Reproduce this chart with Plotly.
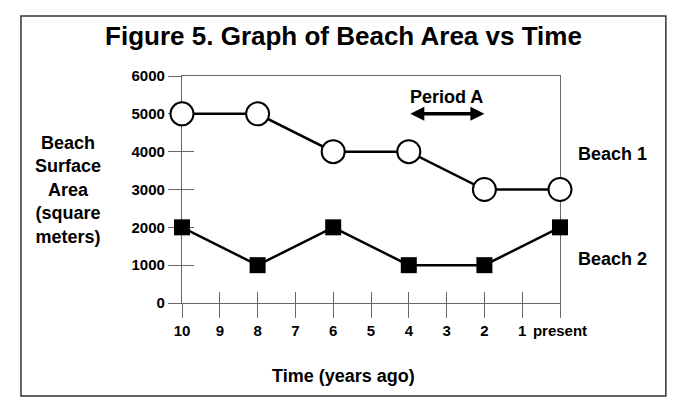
import plotly.graph_objects as go

# Data
years_ago = [10, 8, 6, 4, 2, 0]
beach1 = [5000, 5000, 4000, 4000, 3000, 3000]
beach2 = [2000, 1000, 2000, 1000, 1000, 2000]

tick_vals = [10, 9, 8, 7, 6, 5, 4, 3, 2, 1, 0]
tick_text = ["10", "9", "8", "7", "6", "5", "4", "3", "2", "1", "present"]
y_ticks = [0, 1000, 2000, 3000, 4000, 5000, 6000]

period_start = 4
period_end = 2

FONT = "Liberation Sans, Arial, sans-serif"
AXIS_COLOR = "#666666"

fig = go.Figure()

fig.add_trace(go.Scatter(
    x=years_ago, y=beach1, mode="lines+markers", name="Beach 1",
    line=dict(color="black", width=2.5),
    marker=dict(symbol="circle", size=23, color="white", line=dict(color="black", width=2)),
    cliponaxis=False, showlegend=False
))
fig.add_trace(go.Scatter(
    x=years_ago, y=beach2, mode="lines+markers", name="Beach 2",
    line=dict(color="black", width=2.5),
    marker=dict(symbol="square", size=16, color="black"),
    cliponaxis=False, showlegend=False
))
# empty trace so the overlay axes (inner half of the ticks) get drawn
fig.add_trace(go.Scatter(x=[], y=[], xaxis="x2", yaxis="y2", showlegend=False))

tick_font = dict(family=FONT, size=15, color="black", weight="bold")

# page body adds 8px, so the figure is a bit smaller than the window
fig.update_layout(
    width=671, height=392,
    margin=dict(l=174, r=119, t=68, b=97),
    paper_bgcolor="white", plot_bgcolor="white",
    title=dict(text="Figure 5. Graph of Beach Area vs Time",
               font=dict(family=FONT, size=26, color="black", weight="bold"),
               x=0.5, xanchor="center", y=1 - 28 / 392, yanchor="middle"),
    xaxis=dict(range=[10, 0], tickvals=tick_vals, ticktext=tick_text,
               ticks="outside", ticklen=14, tickcolor=AXIS_COLOR, tickwidth=1.2,
               showline=True, linecolor=AXIS_COLOR, linewidth=1.2, mirror=True,
               showgrid=False, zeroline=False, tickfont=tick_font, layer="below traces"),
    yaxis=dict(range=[0, 6000], tickvals=y_ticks,
               ticks="outside", ticklen=13, tickcolor=AXIS_COLOR, tickwidth=1.2,
               showline=True, linecolor=AXIS_COLOR, linewidth=1.2, mirror=True,
               showgrid=False, zeroline=False, tickfont=tick_font, layer="below traces"),
    xaxis2=dict(overlaying="x", anchor="y2", side="bottom", range=[10, 0], tickvals=tick_vals,
                ticks="inside", ticklen=11, tickcolor=AXIS_COLOR, tickwidth=1.2,
                showticklabels=False, showline=False, showgrid=False, zeroline=False,
                layer="below traces"),
    yaxis2=dict(overlaying="y", anchor="x2", side="left", range=[0, 6000], tickvals=y_ticks,
                ticks="inside", ticklen=12, tickcolor=AXIS_COLOR, tickwidth=1.2,
                showticklabels=False, showline=False, showgrid=False, zeroline=False,
                layer="below traces"),
    shapes=[dict(type="rect", xref="paper", yref="paper",
                 x0=-0.426, x1=1.280, y0=-0.41, y1=1.264,
                 line=dict(color="#333333", width=1.5))],
)

label_font = dict(family=FONT, size=18, color="black", weight="bold")

fig.add_annotation(text="Beach<br>Surface<br>Area<br>(square<br>meters)",
                   xref="paper", yref="paper", x=-0.302, y=0.498,
                   xanchor="center", yanchor="middle",
                   showarrow=False, font=label_font, align="center")
fig.add_annotation(text="Time (years ago)", xref="paper", yref="paper",
                   x=0.426, y=-0.32, xanchor="center", yanchor="middle",
                   showarrow=False, font=label_font)
fig.add_annotation(text="Beach 1", xref="paper", yref="y", x=1.138, y=3950,
                   xanchor="center", yanchor="middle", showarrow=False, font=label_font)
fig.add_annotation(text="Beach 2", xref="paper", yref="y", x=1.138, y=1150,
                   xanchor="center", yanchor="middle", showarrow=False, font=label_font)
fig.add_annotation(text="Period A", x=(period_start + period_end) / 2, y=5450,
                   xanchor="center", yanchor="middle", showarrow=False, font=label_font)
fig.add_annotation(text="", x=period_end, y=5000, ax=period_start, ay=5000,
                   xref="x", yref="y", axref="x", ayref="y",
                   showarrow=True, arrowhead=2, arrowside="end+start",
                   arrowwidth=3.5, arrowsize=0.8, arrowcolor="black",
                   standoff=0, startstandoff=0)

fig.write_html("out.html")
